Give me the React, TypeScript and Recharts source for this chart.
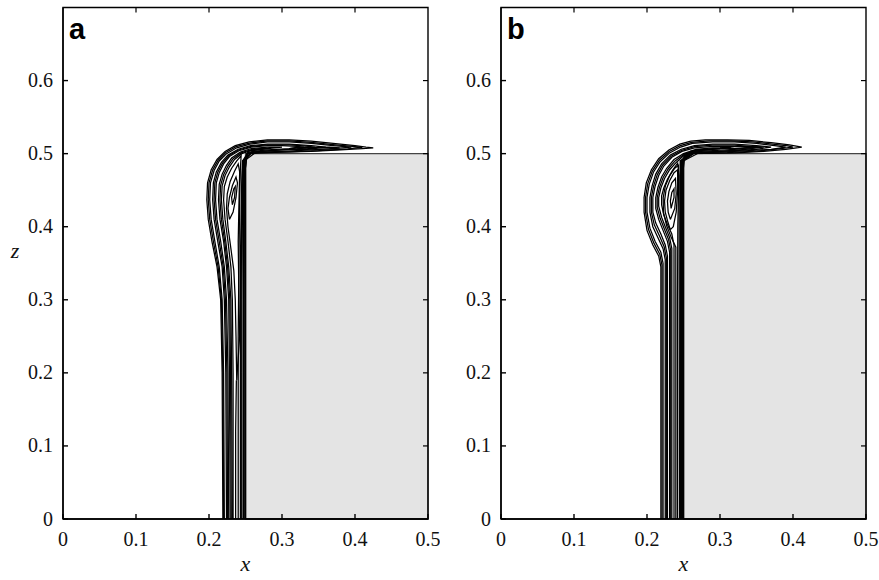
import React from 'react';
import { ComposedChart, XAxis, YAxis, Scatter, ReferenceArea, Label } from 'recharts';

type P = [number, number];

const X_TICKS = [0, 0.1, 0.2, 0.3, 0.4, 0.5];
const Z_TICKS = [0, 0.1, 0.2, 0.3, 0.4, 0.5, 0.6];
const X_DOMAIN: [number, number] = [0, 0.5];
const Z_DOMAIN: [number, number] = [0, 0.7];
const BLOCK_X: [number, number] = [0.25, 0.5];
const BLOCK_Z: [number, number] = [0, 0.5];
const PANEL_LABELS = ['a', 'b'];

// ---------- panel a contours (x, z) ----------
const a0: P[] = [[0.219,0],[0.218,0.2],[0.216,0.3],[0.211,0.345],[0.204,0.38],[0.199,0.41],[0.197,0.437],[0.198,0.46],[0.203,0.478],[0.211,0.492],[0.222,0.503],[0.236,0.511],[0.255,0.516],[0.28,0.519],[0.31,0.519],[0.34,0.517],[0.37,0.514],[0.40,0.511],[0.415,0.509],[0.425,0.508],[0.41,0.507],[0.38,0.505],[0.34,0.503],[0.30,0.502],[0.27,0.501],[0.252,0.5],[0.2502,0.48],[0.2502,0.3],[0.2502,0]];
const a0b: P[] = [[0.220,0],[0.219,0.2],[0.217,0.3],[0.2125,0.345],[0.206,0.38],[0.201,0.41],[0.199,0.437],[0.200,0.46],[0.205,0.4775],[0.2125,0.491],[0.223,0.5015],[0.237,0.5095],[0.2555,0.5145],[0.28,0.5175],[0.31,0.5175],[0.34,0.5155],[0.37,0.5125],[0.40,0.5095],[0.41,0.5085],[0.39,0.5065],[0.35,0.504],[0.31,0.5025],[0.27,0.5015],[0.2525,0.5005],[0.2498,0.48],[0.2498,0]];
const a1: P[] = [[0.221,0],[0.220,0.2],[0.218,0.3],[0.214,0.345],[0.208,0.38],[0.203,0.41],[0.201,0.437],[0.202,0.46],[0.207,0.477],[0.214,0.49],[0.224,0.5],[0.238,0.508],[0.256,0.513],[0.28,0.516],[0.31,0.516],[0.34,0.514],[0.37,0.511],[0.395,0.509],[0.37,0.507],[0.34,0.505],[0.30,0.503],[0.27,0.502],[0.253,0.501],[0.2495,0.49],[0.2495,0.3],[0.2495,0]];
const a2: P[] = [[0.224,0],[0.223,0.2],[0.221,0.3],[0.218,0.345],[0.212,0.38],[0.207,0.41],[0.205,0.437],[0.206,0.46],[0.210,0.475],[0.217,0.488],[0.226,0.498],[0.24,0.506],[0.257,0.511],[0.28,0.513],[0.31,0.513],[0.34,0.511],[0.36,0.509],[0.34,0.507],[0.30,0.505],[0.27,0.503],[0.254,0.502],[0.2485,0.49],[0.248,0.3],[0.248,0]];
const a2b: P[] = [[0.2255,0],[0.2245,0.2],[0.2225,0.3],[0.2195,0.345],[0.214,0.38],[0.209,0.41],[0.207,0.437],[0.208,0.46],[0.212,0.4745],[0.2185,0.487],[0.227,0.497],[0.2405,0.505],[0.2575,0.51],[0.28,0.512],[0.31,0.512],[0.33,0.5105],[0.345,0.509],[0.32,0.5065],[0.29,0.5045],[0.265,0.5025],[0.248,0.49],[0.2475,0.3],[0.2475,0]];
const a3: P[] = [[0.227,0],[0.226,0.2],[0.224,0.3],[0.221,0.345],[0.216,0.38],[0.211,0.41],[0.209,0.437],[0.210,0.46],[0.214,0.474],[0.220,0.486],[0.228,0.496],[0.241,0.504],[0.258,0.509],[0.28,0.511],[0.30,0.511],[0.32,0.510],[0.33,0.509],[0.31,0.507],[0.28,0.505],[0.26,0.503],[0.2475,0.49],[0.247,0.3],[0.247,0]];
const a4: P[] = [[0.229,0],[0.228,0.2],[0.227,0.3],[0.224,0.345],[0.220,0.38],[0.215,0.41],[0.213,0.437],[0.214,0.458],[0.218,0.472],[0.224,0.484],[0.231,0.494],[0.243,0.502],[0.258,0.507],[0.28,0.509],[0.30,0.509],[0.28,0.507],[0.262,0.505],[0.2465,0.49],[0.246,0.45],[0.245,0.3],[0.245,0]];
const a4b: P[] = [[0.2305,0],[0.2295,0.2],[0.2285,0.3],[0.2255,0.345],[0.2215,0.38],[0.217,0.41],[0.215,0.437],[0.216,0.457],[0.22,0.471],[0.226,0.483],[0.233,0.493],[0.244,0.501],[0.259,0.506],[0.275,0.5075],[0.285,0.5075],[0.27,0.5055],[0.255,0.504],[0.246,0.49],[0.245,0.45],[0.244,0.3],[0.244,0]];
const a5: P[] = [[0.232,0],[0.231,0.2],[0.230,0.3],[0.227,0.345],[0.223,0.38],[0.219,0.41],[0.217,0.437],[0.218,0.456],[0.222,0.47],[0.228,0.482],[0.235,0.492],[0.245,0.5],[0.26,0.505],[0.27,0.506],[0.26,0.504],[0.246,0.49],[0.2445,0.45],[0.243,0.35],[0.243,0]];
const a6: P[] = [[0.233,0],[0.233,0.2],[0.232,0.3],[0.230,0.345],[0.226,0.38],[0.222,0.41],[0.220,0.437],[0.221,0.455],[0.225,0.468],[0.231,0.48],[0.238,0.49],[0.244,0.497],[0.243,0.48],[0.242,0.44],[0.241,0.35],[0.240,0.25],[0.240,0]];
const a7: P[] = [[0.238,0.19],[0.237,0.25],[0.236,0.30],[0.234,0.34],[0.230,0.37],[0.226,0.40],[0.224,0.425],[0.225,0.445],[0.229,0.462],[0.235,0.476],[0.240,0.486],[0.242,0.475],[0.241,0.43],[0.240,0.38],[0.241,0.30],[0.242,0.25],[0.238,0.19]];
const a8: P[] = [[0.228,0.41],[0.226,0.425],[0.228,0.44],[0.232,0.456],[0.237,0.468],[0.239,0.46],[0.237,0.44],[0.233,0.42],[0.228,0.41]];
const a9: P[] = [[0.232,0.43],[0.231,0.44],[0.234,0.452],[0.236,0.455],[0.235,0.44],[0.232,0.43]];
const a10: P[] = [[0.31,0.507],[0.32,0.5085],[0.335,0.509],[0.348,0.508],[0.335,0.506],[0.32,0.5058],[0.31,0.507]];
const a11: P[] = [[0.335,0.507],[0.35,0.5085],[0.365,0.5088],[0.379,0.508],[0.365,0.5065],[0.35,0.5062],[0.335,0.507]];
const a12: P[] = [[0.2365,0],[0.2365,0.12],[0.2375,0.19]];
const PANEL_A = [a0, a0b, a1, a2, a2b, a3, a4, a4b, a5, a6, a7, a8, a9, a10, a11, a12];

// ---------- panel b contours (x, z) ----------
const b0: P[] = [[0.219,0],[0.219,0.3],[0.219,0.345],[0.216,0.36],[0.208,0.375],[0.200,0.395],[0.196,0.42],[0.196,0.44],[0.199,0.46],[0.206,0.478],[0.216,0.493],[0.23,0.505],[0.245,0.513],[0.26,0.517],[0.28,0.519],[0.31,0.519],[0.34,0.518],[0.37,0.515],[0.395,0.512],[0.412,0.509],[0.39,0.506],[0.36,0.503],[0.32,0.501],[0.28,0.5005],[0.252,0.5],[0.2502,0.48],[0.2502,0]];
const b0b: P[] = [[0.2205,0],[0.2205,0.3],[0.2205,0.3475],[0.2175,0.3625],[0.2095,0.3775],[0.202,0.3965],[0.198,0.42],[0.198,0.44],[0.201,0.459],[0.2075,0.4765],[0.217,0.491],[0.2305,0.503],[0.2455,0.511],[0.261,0.5155],[0.285,0.5175],[0.315,0.5175],[0.345,0.516],[0.372,0.513],[0.393,0.5105],[0.40,0.509],[0.38,0.5065],[0.35,0.5035],[0.31,0.5015],[0.27,0.5005],[0.2498,0.49],[0.2498,0]];
const b1: P[] = [[0.222,0],[0.222,0.3],[0.222,0.35],[0.219,0.365],[0.211,0.38],[0.204,0.398],[0.200,0.42],[0.200,0.44],[0.203,0.458],[0.209,0.475],[0.218,0.489],[0.231,0.501],[0.246,0.509],[0.262,0.514],[0.29,0.516],[0.32,0.516],[0.35,0.514],[0.375,0.511],[0.39,0.509],[0.37,0.506],[0.34,0.504],[0.30,0.502],[0.265,0.501],[0.2495,0.49],[0.2495,0]];
const b2: P[] = [[0.225,0],[0.225,0.3],[0.225,0.355],[0.222,0.37],[0.215,0.385],[0.208,0.40],[0.204,0.42],[0.204,0.44],[0.207,0.456],[0.212,0.472],[0.220,0.486],[0.232,0.498],[0.247,0.506],[0.265,0.511],[0.29,0.513],[0.32,0.513],[0.35,0.511],[0.37,0.509],[0.35,0.506],[0.32,0.504],[0.28,0.502],[0.255,0.501],[0.2485,0.49],[0.2485,0]];
const b2b: P[] = [[0.2265,0],[0.2265,0.3],[0.2265,0.3575],[0.2235,0.3725],[0.217,0.3875],[0.21,0.4025],[0.206,0.42],[0.206,0.44],[0.209,0.4555],[0.214,0.471],[0.2215,0.4845],[0.233,0.4965],[0.2475,0.5045],[0.265,0.5095],[0.29,0.5115],[0.32,0.5115],[0.345,0.5095],[0.357,0.509],[0.335,0.506],[0.30,0.503],[0.265,0.5015],[0.248,0.49],[0.248,0]];
const b3: P[] = [[0.228,0],[0.228,0.3],[0.228,0.36],[0.225,0.375],[0.219,0.39],[0.212,0.405],[0.208,0.42],[0.208,0.44],[0.211,0.455],[0.216,0.47],[0.223,0.483],[0.234,0.495],[0.248,0.503],[0.265,0.508],[0.29,0.51],[0.32,0.51],[0.345,0.509],[0.32,0.506],[0.29,0.504],[0.26,0.502],[0.2475,0.49],[0.2475,0]];
const b4: P[] = [[0.231,0],[0.231,0.3],[0.231,0.365],[0.228,0.38],[0.222,0.395],[0.216,0.41],[0.212,0.425],[0.212,0.44],[0.215,0.454],[0.220,0.468],[0.227,0.48],[0.237,0.492],[0.25,0.5],[0.267,0.506],[0.29,0.508],[0.315,0.508],[0.29,0.506],[0.265,0.504],[0.2465,0.49],[0.2465,0]];
const b4b: P[] = [[0.2325,0],[0.2325,0.3],[0.2325,0.3675],[0.2295,0.3825],[0.2235,0.3975],[0.218,0.4115],[0.214,0.4265],[0.214,0.44],[0.217,0.4535],[0.222,0.467],[0.229,0.479],[0.2385,0.49],[0.25,0.4985],[0.2675,0.505],[0.29,0.507],[0.30,0.507],[0.28,0.505],[0.26,0.5035],[0.246,0.49],[0.246,0]];
const b5: P[] = [[0.234,0],[0.234,0.3],[0.234,0.37],[0.231,0.385],[0.225,0.4],[0.220,0.413],[0.216,0.428],[0.216,0.44],[0.219,0.453],[0.224,0.466],[0.231,0.478],[0.24,0.488],[0.25,0.497],[0.268,0.504],[0.29,0.506],[0.27,0.504],[0.2455,0.49],[0.2455,0]];
const b6: P[] = [[0.237,0],[0.237,0.3],[0.237,0.375],[0.234,0.39],[0.228,0.403],[0.223,0.416],[0.220,0.43],[0.220,0.442],[0.223,0.453],[0.228,0.465],[0.235,0.477],[0.242,0.487],[0.244,0.47],[0.244,0.4],[0.2445,0]];
const b6b: P[] = [[0.2395,0],[0.2395,0.3],[0.2395,0.372],[0.233,0.386],[0.227,0.401],[0.2225,0.42],[0.2222,0.44],[0.2252,0.456],[0.2312,0.47],[0.238,0.48],[0.2432,0.4842],[0.2432,0.45],[0.2422,0.40],[0.2418,0.3],[0.2418,0]];
const b7: P[] = [[0.232,0.396],[0.229,0.405],[0.225,0.42],[0.224,0.435],[0.226,0.45],[0.231,0.463],[0.237,0.474],[0.242,0.478],[0.242,0.45],[0.240,0.42],[0.236,0.40],[0.232,0.396]];
const b8: P[] = [[0.232,0.41],[0.229,0.42],[0.228,0.435],[0.230,0.448],[0.234,0.46],[0.239,0.466],[0.24,0.445],[0.238,0.425],[0.232,0.41]];
const b9: P[] = [[0.233,0.425],[0.232,0.435],[0.234,0.447],[0.237,0.452],[0.237,0.44],[0.233,0.425]];
const b10: P[] = [[0.30,0.508],[0.32,0.5095],[0.345,0.5095],[0.36,0.509],[0.34,0.5075],[0.32,0.507],[0.30,0.508]];
const PANEL_B = [b0, b0b, b1, b2, b2b, b3, b4, b4b, b5, b6, b6b, b7, b8, b9, b10];

const SERIF = 'Liberation Serif';
const SANS = 'Liberation Sans';
const H = 580;
const TOP = 7.5;
const BOTTOM_MARGIN = 21;
const X_AXIS_H = 40;
const Y_AXIS_W = 40;
const TICK_LEN = 5;

const NoShape = () => <g />;
const fmt = (v: number) => String(v);

function makeBottomTick(plotTop: number) {
  return (props: any) => {
    const { x, y, payload } = props;
    const v = payload.value;
    const inner = v > X_DOMAIN[0] && v < X_DOMAIN[1];
    return (
      <g>
        {inner ? <line x1={x} x2={x} y1={plotTop} y2={plotTop + TICK_LEN} stroke="#000" strokeWidth={1.2} /> : null}
        <text x={x} y={y} dy={15} textAnchor="middle" fill="#111" fontFamily={SERIF} fontSize={20}>{fmt(v)}</text>
      </g>
    );
  };
}
function makeLeftTick(plotRight: number) {
  return (props: any) => {
    const { x, y, payload } = props;
    const v = payload.value;
    const inner = v > Z_DOMAIN[0];
    return (
      <g>
        {inner ? <line x1={plotRight} x2={plotRight - TICK_LEN} y1={y} y2={y} stroke="#000" strokeWidth={1.2} /> : null}
        <text x={x} y={y} dy={6.5} textAnchor="end" fill="#111" fontFamily={SERIF} fontSize={20}>{fmt(v)}</text>
      </g>
    );
  };
}

function Panel({ contours, letter, showZ, left, width, marginLeft, marginRight }: {
  contours: P[][]; letter: string; showZ: boolean; left: number; width: number; marginLeft: number; marginRight: number;
}) {
  const plotRight = width - marginRight;
  const BottomTick = React.useMemo(() => makeBottomTick(TOP), []);
  const LeftTick = React.useMemo(() => makeLeftTick(plotRight), [plotRight]);
  return (
    <div style={{ position: 'absolute', left, top: 0, width, height: H, fontFamily: SERIF }}>
      <ComposedChart width={width} height={H} margin={{ top: TOP, right: marginRight, bottom: BOTTOM_MARGIN, left: marginLeft }}>
        <XAxis xAxisId="b" type="number" dataKey="x" domain={X_DOMAIN} ticks={X_TICKS} allowDataOverflow
          tickSize={-TICK_LEN} tickMargin={17} height={X_AXIS_H}
          stroke="#000" strokeWidth={1.4} tick={<BottomTick />} interval={0}>
          <Label position="bottom" content={(p: any) => {
            const vb = p.viewBox || {};
            return (
              <text x={vb.x + vb.width / 2} y={vb.y + vb.height + 12} textAnchor="middle" fill="#111"
                fontFamily={SERIF} fontStyle="italic" fontSize={22}>x</text>
            );
          }} />
        </XAxis>
        <YAxis yAxisId="l" type="number" dataKey="z" domain={Z_DOMAIN} ticks={Z_TICKS} allowDataOverflow
          tickSize={-TICK_LEN} tickMargin={15} width={Y_AXIS_W}
          stroke="#000" strokeWidth={1.4} tick={<LeftTick />} interval={0}>
          {showZ ? (
            <Label position="left" content={(p: any) => {
              const vb = p.viewBox || {};
              return (
                <text x={vb.x - 8} y={vb.y + vb.height / 2 - 5} textAnchor="middle" fill="#111"
                  fontFamily={SERIF} fontStyle="italic" fontSize={22}>z</text>
              );
            }} />
          ) : null}
        </YAxis>
        <ReferenceArea xAxisId="b" yAxisId="l" x1={BLOCK_X[0]} x2={BLOCK_X[1]} y1={BLOCK_Z[0]} y2={BLOCK_Z[1]}
          fill="#e4e4e4" fillOpacity={1} stroke="#444" strokeWidth={1.3} ifOverflow="visible" />
        <ReferenceArea xAxisId="b" yAxisId="l" x1={X_DOMAIN[0]} x2={X_DOMAIN[1]} y1={Z_DOMAIN[0]} y2={Z_DOMAIN[1]}
          fill="none" fillOpacity={0} stroke="#000" strokeWidth={1.4} ifOverflow="visible" />
        {contours.map((c, i) => (
          <Scatter key={i} xAxisId="b" yAxisId="l" data={c.map(([x, z]) => ({ x, z }))} dataKey="z"
            line={{ stroke: '#000', strokeWidth: 1.25 }} lineJointType="linear" shape={NoShape}
            isAnimationActive={false} legendType="none" />
        ))}
      </ComposedChart>
      <div style={{ position: 'absolute', left: marginLeft + Y_AXIS_W + 6, top: 14, fontFamily: SANS, fontWeight: 'bold', fontSize: 29, lineHeight: '30px', color: '#000' }}>
        {letter}
      </div>
    </div>
  );
}

export default function App() {
  return (
    <div style={{ position: 'absolute', left: 0, top: 0, width: 879, height: 580, background: '#fff' }}>
      <Panel contours={PANEL_A} letter={PANEL_LABELS[0]} showZ left={0} width={440} marginLeft={23} marginRight={12} />
      <Panel contours={PANEL_B} letter={PANEL_LABELS[1]} showZ={false} left={440} width={439} marginLeft={21} marginRight={13} />
    </div>
  );
}
